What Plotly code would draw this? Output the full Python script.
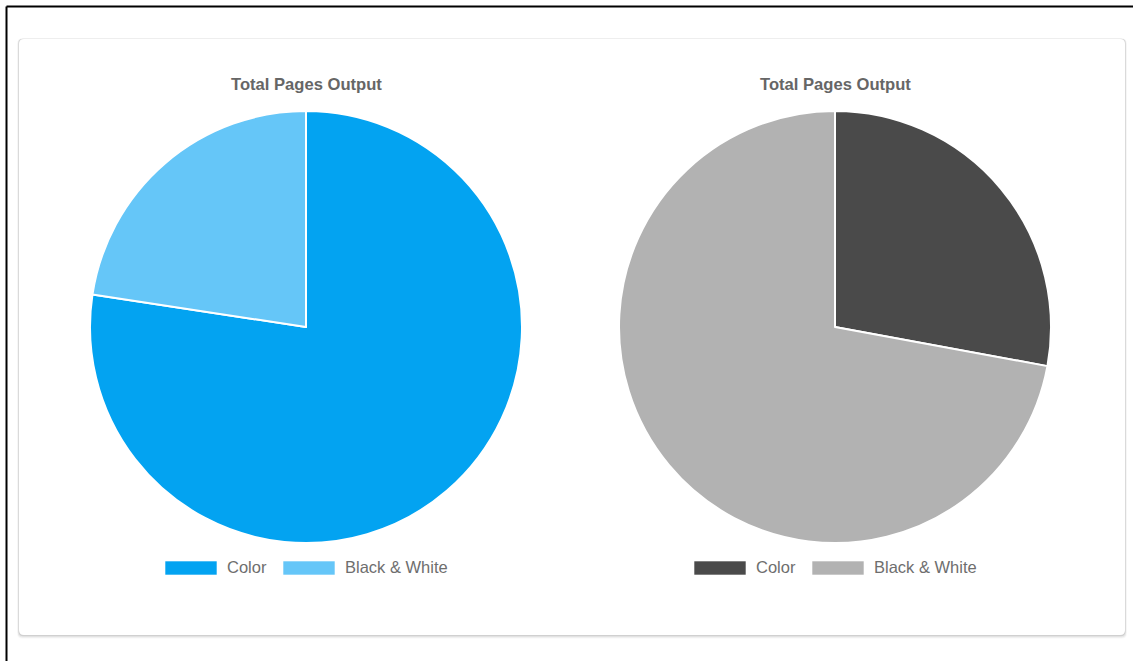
import plotly.graph_objects as go

W, H = 1133, 661

# ---- data ----
labels = ["Color", "Black & White"]
left_values = [77.4, 22.6]
right_values = [27.9, 72.1]
left_colors = ["#03A3F1", "#65C6F8"]
right_colors = ["#4A4A4A", "#B2B2B2"]
chart_title = "Total Pages Output"

FONT = "Liberation Sans, Arial, sans-serif"
TXT = "#666666"


def px(x):
    return x / W


def py(y):
    return 1 - y / H


fig = go.Figure()

# pies: center (306,327) and (835,327), radius ~216
pies = [(306, left_values, left_colors), (835, right_values, right_colors)]
for cx, vals, cols in pies:
    r = 216
    fig.add_trace(go.Pie(
        labels=labels, values=vals,
        marker=dict(colors=cols, line=dict(color="white", width=2)),
        sort=False, direction="clockwise", rotation=0,
        textinfo="none", hoverinfo="label+value",
        showlegend=False,
        domain=dict(x=[px(cx - r), px(cx + r)], y=[py(327 + r), py(327 - r)]),
    ))

shapes = []
# outer frame (top + left black lines)
shapes.append(dict(type="line", xref="paper", yref="paper",
                   x0=px(6.5), x1=1, y0=py(6.5), y1=py(6.5),
                   line=dict(color="black", width=2)))
shapes.append(dict(type="line", xref="paper", yref="paper",
                   x0=px(6.5), x1=px(6.5), y0=py(6.5), y1=0,
                   line=dict(color="black", width=2)))


def rrect(x0, y0, x1, y1, r):
    X = lambda v: px(v)
    Y = lambda v: py(v)
    return (f"M {X(x0 + r)},{Y(y0)} L {X(x1 - r)},{Y(y0)} "
            f"Q {X(x1)},{Y(y0)} {X(x1)},{Y(y0 + r)} L {X(x1)},{Y(y1 - r)} "
            f"Q {X(x1)},{Y(y1)} {X(x1 - r)},{Y(y1)} L {X(x0 + r)},{Y(y1)} "
            f"Q {X(x0)},{Y(y1)} {X(x0)},{Y(y1 - r)} L {X(x0)},{Y(y0 + r)} "
            f"Q {X(x0)},{Y(y0)} {X(x0 + r)},{Y(y0)} Z")


# card shadow (soft, mostly below)
for d, c in [(3, "rgba(0,0,0,0.03)"), (2, "rgba(0,0,0,0.06)"), (1, "rgba(0,0,0,0.10)")]:
    shapes.append(dict(type="path", xref="paper", yref="paper",
                       path=rrect(19 - d * 0.6, 39 - d * 0.2, 1125 + d * 0.6, 635 + d * 1.2, 5),
                       fillcolor=c, line=dict(width=0), layer="below"))
shapes.append(dict(type="path", xref="paper", yref="paper",
                   path=rrect(19, 39, 1125, 635, 5),
                   fillcolor="white", line=dict(width=0), layer="below"))

annotations = []
# titles
for cx in (306, 835):
    annotations.append(dict(text=f"<b>{chart_title}</b>", xref="paper", yref="paper",
                            x=px(cx), y=py(84), xanchor="center", yanchor="middle",
                            showarrow=False, font=dict(family=FONT, size=16.6, color=TXT)))

# legends (box + label)
legend_specs = [
    (left_colors, [165, 283]),
    (right_colors, [694, 812]),
]
for cols, xs in legend_specs:
    for lab, col, x0 in zip(labels, cols, xs):
        shapes.append(dict(type="rect", xref="paper", yref="paper",
                           x0=px(x0), x1=px(x0 + 52), y0=py(575), y1=py(561),
                           fillcolor=col, line=dict(color="rgba(255,255,255,0.6)", width=1)))
        annotations.append(dict(text=lab, xref="paper", yref="paper",
                                x=px(x0 + 60), y=py(567), xanchor="left", yanchor="middle",
                                showarrow=False, font=dict(family=FONT, size=16.5, color="#6E6E6E")))

fig.update_layout(
    width=W, height=H,
    margin=dict(l=0, r=0, t=0, b=0),
    paper_bgcolor="white", plot_bgcolor="white",
    shapes=shapes, annotations=annotations,
    showlegend=False,
)

fig.write_html("out.html", config={"displayModeBar": False},
               post_script="document.body.style.margin='0';document.body.style.padding='0';")
